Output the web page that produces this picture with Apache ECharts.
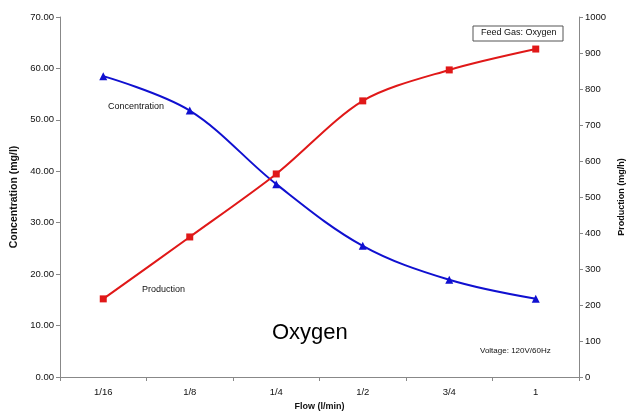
<!DOCTYPE html>
<html><head><meta charset="utf-8">
<script src="https://cdn.jsdelivr.net/npm/echarts@6/dist/echarts.min.js"></script>
<style>html,body{margin:0;padding:0;background:#fff}#c{width:627px;height:416px}</style>
</head><body><div id="c"></div>
<script>
const categories = ['1/16','1/8','1/4','1/2','3/4','1'];
const concentration = [58.5, 51.8, 37.5, 25.5, 18.9, 15.2];
const production = [217, 389, 564, 767, 853, 911];
const leftTicks = [0,10,20,30,40,50,60,70];
const rightTicks = [0,100,200,300,400,500,600,700,800,900,1000];

const font = 'Liberation Sans, Arial, sans-serif';
const chart = echarts.init(document.getElementById('c'));
chart.setOption({
  animation: false,
  textStyle: {fontFamily: font},
  grid: {left: 60, right: 48, top: 17, bottom: 39, containLabel: false, outerBoundsMode: 'none'},
  xAxis: {
    type: 'category', data: categories, boundaryGap: true,
    name: 'Flow (l/min)', nameLocation: 'middle', nameGap: 24,
    nameTextStyle: {fontSize: 9, fontWeight: 'bold', color: '#111', fontFamily: font},
    axisLine: {lineStyle: {color: '#888'}},
    axisTick: {show: true, length: 4, lineStyle: {color: '#888'}},
    axisLabel: {fontSize: 9.5, color: '#111', margin: 10, fontFamily: font}
  },
  yAxis: [{
    type: 'value', min: leftTicks[0], max: leftTicks[leftTicks.length-1], interval: 10,
    name: 'Concentration (mg/l)', nameLocation: 'middle', nameGap: 39,
    nameTextStyle: {fontSize: 10.5, fontWeight: 'bold', color: '#111', fontFamily: font},
    axisLine: {show: true, lineStyle: {color: '#888'}},
    axisTick: {show: true, length: 4, lineStyle: {color: '#888'}},
    splitLine: {show: false},
    axisLabel: {fontSize: 9.5, color: '#111', margin: 6, fontFamily: font, formatter: v => v.toFixed(2)}
  }, {
    type: 'value', min: rightTicks[0], max: rightTicks[rightTicks.length-1], interval: 100,
    position: 'right',
    name: 'Production (mg/h)', nameLocation: 'middle', nameGap: 33, nameRotate: 90,
    nameTextStyle: {fontSize: 9, fontWeight: 'bold', color: '#111', fontFamily: font},
    axisLine: {show: true, lineStyle: {color: '#888'}},
    axisTick: {show: true, length: 4, lineStyle: {color: '#888'}},
    splitLine: {show: false},
    axisLabel: {fontSize: 9.5, color: '#111', margin: 6, fontFamily: font, formatter: v => String(v)}
  }],
  series: [{
    name: 'Concentration', type: 'line', yAxisIndex: 0, data: concentration,
    smooth: 0.35, symbol: 'triangle', symbolSize: 8,
    lineStyle: {color: '#1010d0', width: 2}, itemStyle: {color: '#1010d0'}
  }, {
    name: 'Production', type: 'line', yAxisIndex: 1, data: production,
    smooth: 0.3, symbol: 'rect', symbolSize: 7,
    lineStyle: {color: '#e01818', width: 2}, itemStyle: {color: '#e01818'}
  }],
  graphic: [
    {type: 'text', left: 108, top: 102, style: {text: 'Concentration', font: '9px ' + font, fill: '#111'}},
    {type: 'text', left: 142, top: 285, style: {text: 'Production', font: '9px ' + font, fill: '#111'}},
    {type: 'text', left: 272, top: 322, style: {text: 'Oxygen', font: '22px ' + font, fill: '#000'}},
    {type: 'text', left: 480, top: 347, style: {text: 'Voltage: 120V/60Hz', font: '8px ' + font, fill: '#111'}},
    {type: 'rect', shape: {x: 473, y: 26, width: 90, height: 15}, style: {fill: '#fff', stroke: '#555', lineWidth: 1}},
    {type: 'text', left: 481, top: 28, style: {text: 'Feed Gas: Oxygen', font: '9px ' + font, fill: '#111'}}
  ]
});
</script></body></html>
